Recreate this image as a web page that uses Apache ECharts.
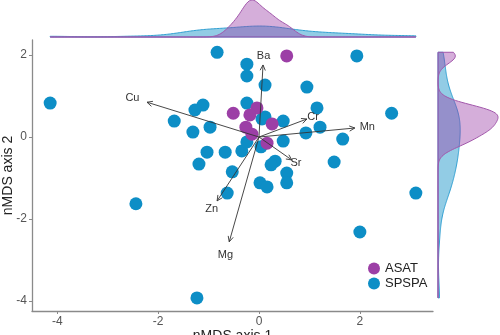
<!DOCTYPE html>
<html><head><meta charset="utf-8">
<script src="https://cdn.jsdelivr.net/npm/echarts@6/dist/echarts.min.js"></script>
<style>html,body{margin:0;padding:0;background:#fff}#c{width:500px;height:335px}</style>
</head><body><div id="c"></div>
<script>
// ---- data ----
const groups = ['ASAT', 'SPSPA'];
const asatX = [0.55, -0.51, -0.04, -0.18, 0.26, -0.26, -0.14, 0.16];
const asatY = [1.98, 0.58, 0.71, 0.54, 0.32, 0.24, 0.07, -0.15];
const spspaX = [-4.14, -0.83, -0.24, -0.24, -0.24, -1.11, -1.27, -1.68, -1.31, -0.97,
  -1.03, -0.67, -0.34, -1.19, 0.12, 0.12, 0.06, 0.48, 0.48, -0.24,
  0.04, 0.32, 0.24, 0.95, 1.15, 1.21, 0.93, 1.66, 1.49, 0.55,
  0.55, 0.02, 0.16, -0.53, -0.63, -2.44, -1.23, 3.11, 2.0, 1.94, 2.63];
const spspaY = [0.83, 2.07, 1.78, 1.49, 0.83, 0.78, 0.66, 0.39, 0.12, 0.24,
  -0.37, -0.37, -0.34, -0.66, 1.27, 0.49, 0.44, 0.39, -0.10, -0.12,
  -0.24, -0.59, -0.68, 1.22, 0.71, 0.24, 0.10, -0.05, -0.61, -0.88,
  -1.12, -1.12, -1.22, -0.85, -1.37, -1.63, -3.93, -1.37, -2.32, 1.98, 0.58];
const vectorNames = ['Ba', 'Cu', 'Cr', 'Mn', 'Sr', 'Zn', 'Mg'];
const vectorX = [0.08, -2.22, 0.95, 1.90, 0.65, -0.83, -0.59];
const vectorY = [1.76, 0.85, 0.44, 0.22, -0.56, -1.56, -2.56];
const xTicks = [-4, -2, 0, 2];
const yTicks = [-4, -2, 0, 2];

// ---- style ----
const COL = { ASAT: '#9c3fa6', SPSPA: '#0d8ec6' };
const FILL = { ASAT: 'rgba(156,63,166,0.42)', SPSPA: 'rgba(13,142,198,0.45)' };
const EDGE = { ASAT: '#a257ab', SPSPA: '#2f9fd2' };
const XMIN = -4.5, XMAX = 3.45, YMIN = -4.25, YMAX = 2.37;
const LABEL_K = 1.13;
const FONT = 'Liberation Sans, Arial, sans-serif';

// kernel density (gaussian, bw.nrd0) over [lo,hi]
function kde(vals, lo, hi, n) {
  const s = vals.slice().sort((a, b) => a - b), m = s.length;
  const mean = s.reduce((a, b) => a + b, 0) / m;
  const sd = Math.sqrt(s.reduce((a, b) => a + (b - mean) * (b - mean), 0) / (m - 1));
  const q = p => { const h = (m - 1) * p, i = Math.floor(h); const nx = i + 1 < m ? s[i + 1] : s[i]; return s[i] + (h - i) * (nx - s[i]); };
  let lo2 = Math.min(sd, (q(0.75) - q(0.25)) / 1.34); if (!(lo2 > 0)) lo2 = sd;
  const bw = 0.9 * lo2 * Math.pow(m, -0.2);
  const out = [];
  for (let k = 0; k < n; k++) {
    const x = lo + (hi - lo) * k / (n - 1); let d = 0;
    for (const v of s) { const z = (x - v) / bw; d += Math.exp(-0.5 * z * z); }
    out.push([x, d / (m * bw * Math.sqrt(2 * Math.PI))]);
  }
  return out;
}
const allX = asatX.concat(spspaX), allY = asatY.concat(spspaY);
const xLo = Math.min(...allX), xHi = Math.max(...allX);
const yLo = Math.min(...allY), yHi = Math.max(...allY);
const dens = {
  x: { ASAT: kde(asatX, xLo, xHi, 256), SPSPA: kde(spspaX, xLo, xHi, 256) },
  y: { ASAT: kde(asatY, yLo, yHi, 256), SPSPA: kde(spspaY, yLo, yHi, 256) }
};
const topMax = Math.max(...dens.x.ASAT.map(p => p[1]), ...dens.x.SPSPA.map(p => p[1]));
const rightMax = Math.max(...dens.y.ASAT.map(p => p[1]), ...dens.y.SPSPA.map(p => p[1]));

function densSeries(g, orient) {
  const pts = dens[orient][g];
  return {
    type: 'custom', silent: true, z: g === 'ASAT' ? 3 : 2,
    xAxisIndex: orient === 'x' ? 1 : 2, yAxisIndex: orient === 'x' ? 1 : 2,
    data: [[0, 0]],
    renderItem: function (params, api) {
      let poly;
      if (orient === 'x') {
        poly = [api.coord([pts[0][0], 0])].concat(pts.map(p => api.coord([p[0], p[1]])), [api.coord([pts[pts.length - 1][0], 0])]);
      } else {
        poly = [api.coord([0, pts[0][0]])].concat(pts.map(p => api.coord([p[1], p[0]])), [api.coord([0, pts[pts.length - 1][0]])]);
      }
      return { type: 'polygon', shape: { points: poly }, style: { fill: FILL[g], stroke: EDGE[g], lineWidth: 1 } };
    }
  };
}

const chart = echarts.init(document.getElementById('c'), null, { renderer: 'canvas' });
chart.setOption({
  animation: false,
  backgroundColor: '#fff',
  grid: [
    { left: 32, top: 40, width: 401, height: 271, containLabel: false, outerBoundsMode: 'none' },
    { left: 32, top: 0, width: 401, height: 37, containLabel: false, outerBoundsMode: 'none' },
    { left: 438, top: 40, width: 62, height: 271, containLabel: false, outerBoundsMode: 'none' }
  ],
  xAxis: [
    { gridIndex: 0, type: 'value', min: XMIN, max: XMAX, splitLine: { show: false },
      axisLine: { show: true, onZero: false, lineStyle: { color: '#8a8a8a', width: 1.3 } },
      axisTick: { show: true, customValues: xTicks, length: 3, lineStyle: { color: '#8a8a8a' } },
      axisLabel: { customValues: xTicks, color: '#555', fontSize: 12, fontFamily: FONT, margin: 5 },
      name: 'nMDS axis 1', nameLocation: 'middle', nameGap: 18, nameMoveOverlap: false,
      nameTextStyle: { color: '#222', fontSize: 14, fontFamily: FONT, verticalAlign: 'top' } },
    { gridIndex: 1, type: 'value', min: XMIN, max: XMAX, show: false },
    { gridIndex: 2, type: 'value', min: 0, max: rightMax * 62 / 60, show: false }
  ],
  yAxis: [
    { gridIndex: 0, type: 'value', min: YMIN, max: YMAX, splitLine: { show: false },
      axisLine: { show: true, onZero: false, lineStyle: { color: '#8a8a8a', width: 1.3 } },
      axisTick: { show: true, customValues: yTicks, length: 3, lineStyle: { color: '#8a8a8a' } },
      axisLabel: { customValues: yTicks, color: '#555', fontSize: 12, fontFamily: FONT, margin: 5 },
      name: 'nMDS axis 2', nameLocation: 'middle', nameGap: 17, nameRotate: 90, nameMoveOverlap: false,
      nameTextStyle: { color: '#222', fontSize: 14, fontFamily: FONT, verticalAlign: 'bottom' } },
    { gridIndex: 1, type: 'value', min: 0, max: topMax, show: false },
    { gridIndex: 2, type: 'value', min: YMIN, max: YMAX, show: false }
  ],
  legend: {
    data: groups, orient: 'vertical', left: 363, top: 257, itemWidth: 12, itemHeight: 12, itemGap: 2,
    icon: 'circle', textStyle: { color: '#222', fontSize: 13, fontFamily: FONT }
  },
  series: [
    { name: 'SPSPA', type: 'scatter', xAxisIndex: 0, yAxisIndex: 0, symbolSize: 13, z: 2,
      itemStyle: { color: COL.SPSPA, opacity: 1 }, data: spspaX.map((x, i) => [x, spspaY[i]]) },
    { name: 'ASAT', type: 'scatter', xAxisIndex: 0, yAxisIndex: 0, symbolSize: 13, z: 3,
      itemStyle: { color: COL.ASAT, opacity: 1 }, data: asatX.map((x, i) => [x, asatY[i]]) },
    { type: 'custom', xAxisIndex: 0, yAxisIndex: 0, z: 5, silent: true,
      data: vectorX.map((x, i) => [x, vectorY[i]]),
      renderItem: function (params, api) {
        const o = api.coord([0, 0]);
        const t = api.coord([api.value(0), api.value(1)]);
        const lp = api.coord([api.value(0) * LABEL_K, api.value(1) * LABEL_K]);
        const ang = Math.atan2(t[1] - o[1], t[0] - o[0]);
        const L = 6, A = Math.PI / 7;
        const h1 = [t[0] - L * Math.cos(ang - A), t[1] - L * Math.sin(ang - A)];
        const h2 = [t[0] - L * Math.cos(ang + A), t[1] - L * Math.sin(ang + A)];
        return { type: 'group', children: [
          { type: 'line', shape: { x1: o[0], y1: o[1], x2: t[0], y2: t[1] }, style: { stroke: '#333', lineWidth: 0.9 } },
          { type: 'polyline', shape: { points: [h1, t, h2] }, style: { stroke: '#333', lineWidth: 0.9, fill: null } },
          { type: 'text', x: lp[0], y: lp[1], style: { text: vectorNames[params.dataIndex], fill: '#333', font: '11px ' + FONT, align: 'center', verticalAlign: 'middle' } }
        ] };
      } },
    densSeries('SPSPA', 'x'), densSeries('ASAT', 'x'),
    densSeries('SPSPA', 'y'), densSeries('ASAT', 'y')
  ]
});
</script></body></html>
